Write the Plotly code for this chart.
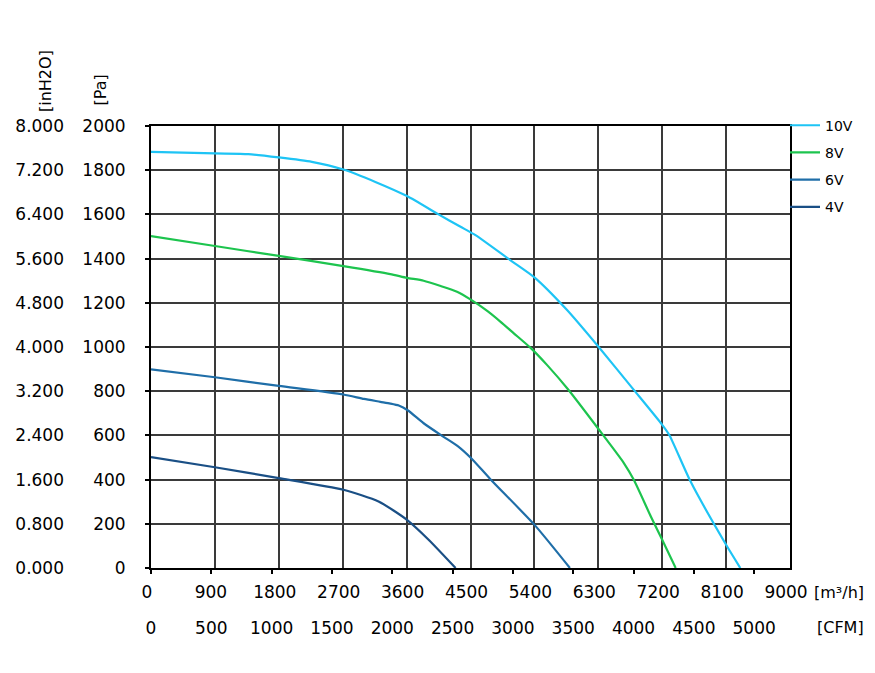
import plotly.graph_objects as go

# fan curves, airflow in m3/h, static pressure in Pa
flow_10v = [0, 900, 1370, 1800, 2265, 2710, 3160, 3605, 4050, 4360, 4570, 5060, 5400, 5860, 6300, 6800, 7200, 7300, 7600, 8100, 8300]
pa_10v = [1883, 1876, 1873, 1858, 1838, 1803, 1747, 1683, 1600, 1544, 1506, 1393, 1315, 1167, 1002, 806, 648, 602, 391, 105, 0]

flow_8v = [0, 900, 1800, 2710, 3370, 3605, 3840, 4080, 4310, 4510, 4740, 4920, 5110, 5350, 5580, 5870, 6300, 6660, 6800, 7040, 7200, 7390]
pa_8v = [1502, 1457, 1412, 1366, 1330, 1313, 1300, 1276, 1250, 1213, 1162, 1115, 1062, 995, 918, 810, 630, 475, 399, 233, 128, 0]

flow_6v = [0, 900, 1800, 2710, 3000, 3230, 3370, 3490, 3615, 3840, 4100, 4320, 4510, 4780, 5405, 5900]
pa_6v = [899, 863, 824, 785, 765, 752, 744, 735, 714, 655, 598, 552, 497, 402, 194, 0]

flow_4v = [0, 900, 1800, 2710, 3205, 3605, 3910, 4290]
pa_4v = [502, 456, 407, 354, 301, 218, 128, 0]

series = [
    ("10V", flow_10v, pa_10v, "#1ec4f5"),
    ("8V", flow_8v, pa_8v, "#1dc44e"),
    ("6V", flow_6v, pa_6v, "#1f6ea8"),
    ("4V", flow_4v, pa_4v, "#1a4f85"),
]

M3H_MAX = 9000
PA_MAX = 2000
M3H_PER_CFM = 1.699
PA_PER_INH2O = 250

FONT = "DejaVu Sans"

fig = go.Figure()
for name, x, y, col in series:
    fig.add_trace(go.Scatter(x=x, y=y, name=name, mode="lines", legendgroup=name,
                             line=dict(color=col, width=2.2, shape="spline", smoothing=0.6)))

# same 10V curve in CFM / inH2O, invisible, so the secondary axes get drawn
fig.add_trace(go.Scatter(x=[v / M3H_PER_CFM for v in flow_10v],
                         y=[p / PA_PER_INH2O for p in pa_10v],
                         xaxis="x2", yaxis="y2", mode="lines", opacity=0,
                         line=dict(width=0), showlegend=False, hoverinfo="skip"))

grid = "#3a3a3a"
fig.update_layout(
    width=875, height=673,
    paper_bgcolor="white", plot_bgcolor="white",
    # page has an 8px body margin, so shift the plot area back
    margin=dict(l=143, r=93, t=118, b=113, autoexpand=False),
    font=dict(family=FONT, size=17, color="black"),
    showlegend=True,
    legend=dict(x=1.0 - 5 / 639, xanchor="left", y=1.037, yanchor="top",
                font=dict(family=FONT, size=14), tracegroupgap=6,
                bgcolor="rgba(0,0,0,0)", borderwidth=0, itemwidth=30),
    xaxis=dict(range=[0, M3H_MAX], dtick=900, tick0=0, showgrid=True, gridcolor=grid, gridwidth=1.6,
               showline=True, linecolor="black", linewidth=2, mirror=True, automargin=False,
               ticks="", ticklabelstandoff=8, ticklabelshift=-4, zeroline=False, fixedrange=True),
    xaxis2=dict(range=[0, M3H_MAX / M3H_PER_CFM], dtick=500, tick0=0, overlaying="x", side="bottom",
                anchor="y", showgrid=False, showline=False, ticks="outside", ticklen=5, automargin=False,
                tickwidth=1.5, tickcolor="black", ticklabelstandoff=40, zeroline=False),
    yaxis=dict(range=[0, PA_MAX], dtick=200, tick0=0, showgrid=True, gridcolor=grid, gridwidth=1.6,
               showline=True, linecolor="black", linewidth=2, mirror=True, automargin=False,
               ticks="outside", ticklen=4, tickcolor="black", tickwidth=1.5,
               ticklabelstandoff=16, zeroline=False),
    yaxis2=dict(range=[0, PA_MAX / PA_PER_INH2O], dtick=0.8, tick0=0, tickformat=".3f",
                overlaying="y", side="left", anchor="x", showgrid=False, showline=False,
                automargin=False, ticks="", ticklabelstandoff=86, zeroline=False),
)

def pos_x(px):
    return (px - 151) / 639

def pos_y(py):
    return (568 - py) / 442

fig.add_annotation(text="[inH2O]", xref="paper", yref="paper", x=pos_x(45), y=pos_y(114),
                   xanchor="center", yanchor="bottom", textangle=-90, showarrow=False,
                   font=dict(family=FONT, size=16))
fig.add_annotation(text="[Pa]", xref="paper", yref="paper", x=pos_x(100), y=pos_y(108),
                   xanchor="center", yanchor="bottom", textangle=-90, showarrow=False,
                   font=dict(family=FONT, size=16))
fig.add_annotation(text="[m³/h]", xref="paper", yref="paper", x=pos_x(812), y=pos_y(592),
                   xanchor="left", yanchor="middle", showarrow=False,
                   font=dict(family=FONT, size=16))
fig.add_annotation(text="[CFM]", xref="paper", yref="paper", x=pos_x(815), y=pos_y(627),
                   xanchor="left", yanchor="middle", showarrow=False,
                   font=dict(family=FONT, size=16))

fig.write_html("out.html")
